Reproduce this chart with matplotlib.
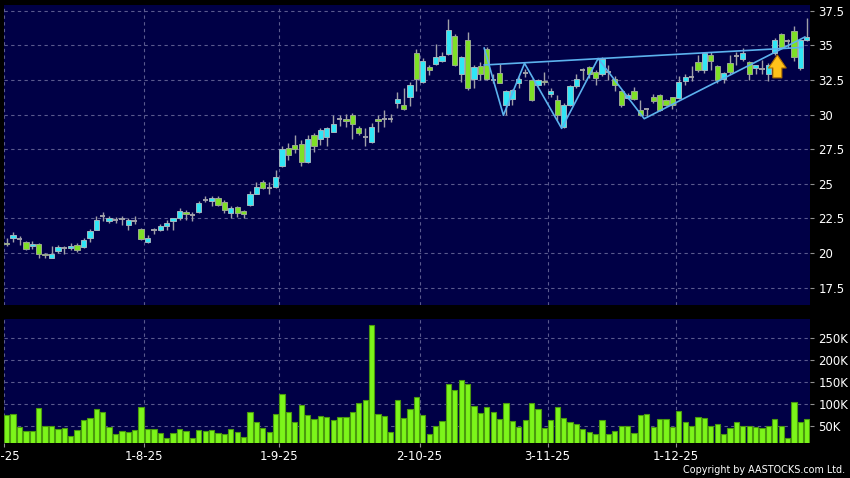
import matplotlib
matplotlib.use("Agg")
import matplotlib.pyplot as plt
import matplotlib.transforms as mtransforms
import numpy as np
from matplotlib.ticker import FixedLocator, FuncFormatter

# ---------------- data ----------------
tick_idx = [0, 22, 43, 65, 85, 105]
tick_labels = ["2-7-25", "1-8-25", "1-9-25", "2-10-25", "3-11-25", "1-12-25"]

opens = [20.72, 21.1, 21.0, 20.8, 20.5, 20.66, 19.95, 19.65, 20.15, 20.4,
         20.35, 20.55, 20.45, 21.1, 21.7, 22.7, 22.3, 22.4, 22.45, 22.05,
         22.3, 21.75, 20.8, 21.65, 21.7, 21.93, 22.3, 22.5, 23.0, 22.75,
         22.95, 23.8, 23.75, 24.0, 23.7, 22.9, 23.3, 23.05, 23.45, 24.3,
         25.15, 24.7, 24.8, 26.25, 27.55, 27.8, 27.85, 26.6, 28.55, 28.2,
         28.4, 28.75, 29.7, 29.7, 29.95, 29.0, 28.35, 28.0, 29.65, 29.7,
         29.65, 30.8, 30.7, 31.3, 34.45, 32.35, 33.4, 33.65, 33.9, 34.35,
         35.7, 32.95, 35.35, 32.6, 33.5, 34.75, 32.5, 33.0, 30.7, 31.15,
         32.3, 33.0, 32.5, 32.1, 32.45, 31.45, 31.05, 29.1, 30.7, 32.05,
         33.2, 33.4, 33.05, 32.9, 33.1, 32.6, 31.7, 31.2, 31.7, 30.3,
         30.4, 31.25, 31.4, 31.05, 31.25, 31.2, 32.4, 32.7, 33.8, 33.2,
         34.3, 33.5, 32.6, 33.7, 34.2, 34.0, 33.8, 33.35, 33.3, 32.9,
         34.45, 35.8, 35.3, 36.0, 33.35, 35.35]
highs = [21.1, 21.5, 21.25, 20.85, 20.9, 20.75, 20.0, 20.5, 20.6, 20.5,
         20.7, 20.7, 21.1, 21.75, 22.65, 23.0, 22.7, 22.6, 22.7, 22.5,
         22.7, 21.8, 21.3, 21.8, 22.1, 22.4, 22.55, 23.25, 23.1, 23.0,
         23.75, 24.1, 24.15, 24.1, 23.85, 23.37, 23.37, 23.1, 24.45, 25.15,
         25.25, 25.1, 26.0, 27.75, 27.95, 28.5, 28.15, 28.5, 28.7, 29.05,
         29.1, 29.95, 29.95, 30.05, 30.1, 29.15, 29.05, 29.4, 29.95, 30.3,
         30.05, 31.65, 31.9, 32.35, 34.75, 34.05, 33.55, 35.1, 34.5, 36.9,
         35.8, 34.25, 35.95, 33.55, 33.8, 34.85, 32.95, 33.65, 31.8, 31.85,
         32.7, 33.3, 32.55, 32.6, 33.05, 31.9, 31.4, 30.8, 32.1, 32.95,
         33.35, 33.5, 33.25, 34.15, 33.6, 32.75, 31.8, 31.55, 32.0, 31.05,
         30.5, 31.45, 31.5, 31.15, 31.3, 32.8, 32.9, 33.5, 34.3, 34.55,
         34.5, 33.6, 33.1, 34.3, 34.55, 34.8, 33.9, 33.6, 33.95, 33.7,
         35.5, 35.9, 35.45, 36.4, 35.45, 36.95]
lows = [20.5, 20.8, 20.55, 20.25, 20.3, 19.65, 19.65, 19.65, 20.0, 19.9,
        20.2, 20.1, 20.4, 20.8, 21.65, 22.35, 22.2, 22.2, 22.05, 21.7,
        22.1, 20.95, 20.75, 21.4, 21.6, 21.65, 21.7, 22.4, 22.4, 22.35,
        22.9, 23.7, 23.4, 23.4, 22.9, 22.5, 22.6, 22.5, 23.4, 24.3,
        24.6, 24.3, 24.7, 26.2, 26.75, 27.2, 26.3, 26.5, 27.3, 27.8,
        27.75, 28.75, 29.15, 29.1, 28.2, 28.55, 27.75, 27.95, 28.75, 29.1,
        29.45, 30.45, 30.3, 30.6, 31.7, 32.25, 32.85, 33.6, 33.8, 34.3,
        33.5, 32.35, 31.8, 31.9, 32.5, 32.5, 32.25, 32.25, 29.95, 30.7,
        31.95, 32.7, 31.0, 32.05, 32.1, 31.3, 29.6, 29.0, 30.65, 31.95,
        32.5, 32.65, 32.15, 32.75, 32.5, 31.7, 30.55, 31.1, 31.05, 29.9,
        29.8, 30.85, 30.25, 30.65, 30.4, 31.1, 32.1, 32.4, 33.1, 33.0,
        33.25, 32.3, 32.3, 32.95, 33.6, 33.85, 32.5, 32.95, 32.9, 32.4,
        34.3, 34.8, 34.8, 33.85, 33.2, 35.3]
closes = [20.65, 21.3, 21.0, 20.3, 20.65, 19.95, 19.88, 19.95, 20.45, 20.4,
          20.5, 20.25, 20.95, 21.6, 22.4, 22.7, 22.5, 22.4, 22.45, 22.4,
          22.3, 21.0, 21.1, 21.65, 21.98, 22.2, 22.5, 23.05, 22.85, 22.75,
          23.65, 23.8, 24.0, 23.5, 23.1, 23.25, 22.9, 22.8, 24.3, 24.75,
          24.7, 24.7, 25.5, 27.5, 27.05, 27.5, 26.6, 28.2, 27.7, 28.9,
          29.0, 29.35, 29.7, 29.5, 29.35, 28.7, 28.35, 29.1, 29.55, 29.7,
          29.65, 31.15, 30.4, 32.1, 32.6, 33.85, 33.2, 34.15, 34.25, 36.1,
          33.6, 34.15, 31.9, 33.45, 32.95, 32.6, 32.5, 32.3, 31.7, 31.75,
          32.55, 33.0, 31.05, 32.5, 32.35, 31.7, 29.95, 30.7, 32.05, 32.6,
          33.2, 32.9, 32.65, 34.0, 33.1, 32.15, 30.7, 31.4, 31.15, 30.0,
          30.4, 30.95, 30.3, 30.7, 30.7, 32.35, 32.7, 32.7, 33.2, 34.45,
          33.9, 32.5, 33.0, 33.05, 34.2, 34.45, 32.95, 33.55, 33.3, 33.55,
          35.35, 34.9, 35.3, 34.15, 35.35, 35.6]
volumes_k = [76, 78, 47, 39, 39, 91, 49, 51, 44, 45,
             27, 41, 64, 69, 88, 81, 48, 33, 38, 37,
             41, 92, 43, 43, 35, 24, 34, 43, 39, 23,
             41, 39, 42, 34, 32, 43, 36, 25, 81, 59,
             45, 36, 77, 122, 82, 59, 97, 75, 66, 73,
             70, 64, 71, 70, 82, 102, 108, 279, 78, 73,
             36, 110, 69, 88, 116, 75, 32, 51, 61, 145,
             131, 153, 144, 96, 79, 92, 82, 66, 101, 61,
             48, 63, 101, 88, 45, 63, 93, 69, 59, 55,
             43, 36, 33, 63, 33, 39, 51, 51, 34, 74,
             78, 47, 65, 67, 48, 85, 60, 49, 70, 68,
             50, 54, 31, 45, 60, 49, 49, 48, 45, 49,
             65, 50, 24, 105, 59, 66]

# pattern lines drawn on the chart (x in trading-day index, y in price)
zigzag_x = [74.6, 77.6, 80.9, 86.7, 92.4, 99.6, 124.7]
zigzag_y = [34.8, 29.95, 33.7, 29.0, 34.05, 29.7, 35.6]
resist_x = [74.6, 124.4]
resist_y = [33.58, 34.85]
signal_idx = 120

# ---------------- style ----------------
BG = "#000046"
GRID = "#5a5a8e"
CYAN = "#30e6f6"
GREEN = "#7ee026"
WICK = "#a0a0a8"
VOL = "#7cf51a"
VOL_EDGE = "#4a9a0e"
LINE = "#5cb2ee"

W, H = 850, 478
fig = plt.figure(figsize=(W / 100, H / 100), dpi=100, facecolor="black")
L, R = 3.5, 810
ax1 = fig.add_axes([L / W, 1 - 305 / H, (R - L) / W, 300 / H])
ax2 = fig.add_axes([L / W, 1 - 443.3 / H, (R - L) / W, (443.3 - 319) / H])

o = np.array(opens); h = np.array(highs); lo = np.array(lows); c = np.array(closes)
x = np.arange(len(o))
up = c > o
dn = c < o
dj = c == o

for ax in (ax1, ax2):
    ax.set_facecolor(BG)
    for s in ax.spines.values():
        s.set_visible(False)
    ax.set_xlim(-0.5, len(o) - 0.5)
    ax.xaxis.set_major_locator(FixedLocator([t - 0.5 for t in tick_idx]))
    ax.grid(True, color=GRID, linestyle=(0, (3, 3)), linewidth=0.8)
    ax.set_axisbelow(True)
    ax.yaxis.tick_right()
    ax.tick_params(axis="y", colors="#909090", labelcolor="white", length=3,
                   width=0.8, pad=3, labelsize=8.5)

# candles
ax1.vlines(x, lo, h, color=WICK, linewidth=1.0, zorder=2)
bw = 0.82
ax1.bar(x[up], (c - o)[up], bottom=o[up], width=bw, color=CYAN,
        edgecolor="#9fb8c0", linewidth=0.7, zorder=3)
ax1.bar(x[dn], (o - c)[dn], bottom=c[dn], width=bw, color=GREEN,
        edgecolor="#9aa890", linewidth=0.7, zorder=3)
ax1.hlines(c[dj], x[dj] - bw / 2, x[dj] + bw / 2, color=WICK, linewidth=1.4, zorder=3)

# pattern lines
ax1.plot(resist_x, resist_y, color=LINE, linewidth=1.2, zorder=4)
ax1.plot(zigzag_x, zigzag_y, color=LINE, linewidth=1.2, zorder=4)

# signal arrow
ax1.annotate("", xy=(signal_idx + 0.4, lows[signal_idx]),
             xytext=(signal_idx + 0.4, lows[signal_idx] - 1.65),
             arrowprops=dict(arrowstyle="simple,head_length=0.55,head_width=0.75,tail_width=0.38",
                             mutation_scale=17, fc="#ffc21a", ec="#b07000", lw=0.8,
                             shrinkA=0, shrinkB=0),
             zorder=5)

ax1.set_ylim(16.25, 37.91)
ax1.set_yticks([17.5, 20, 22.5, 25, 27.5, 30, 32.5, 35, 37.5])
ax1.yaxis.set_major_formatter(FuncFormatter(lambda v, p: f"{v:g}"))
ax1.tick_params(axis="x", length=0, labelbottom=False)

# volume
ax2.bar(x, volumes_k, width=bw, color=VOL, edgecolor=VOL_EDGE, linewidth=0.8, zorder=3)
ax2.set_ylim(11, 292)
ax2.set_yticks([50, 100, 150, 200, 250])
ax2.yaxis.set_major_formatter(FuncFormatter(lambda v, p: f"{int(v)}K"))
ax2.set_xticklabels(tick_labels)
ax2.tick_params(axis="x", colors="#909090", labelcolor="white", length=3,
                width=0.8, pad=2, labelsize=8.5)
first = ax2.get_xticklabels()[0]
first.set_transform(first.get_transform() +
                    mtransforms.ScaledTranslation(-3 / 100, 0, fig.dpi_scale_trans))

fig.text(845 / W, 1 - 470 / H, "Copyright by AASTOCKS.com Ltd.", color="white",
         fontsize=6.9, ha="right", va="center")

fig.savefig("out.png", dpi=100, facecolor="black")
